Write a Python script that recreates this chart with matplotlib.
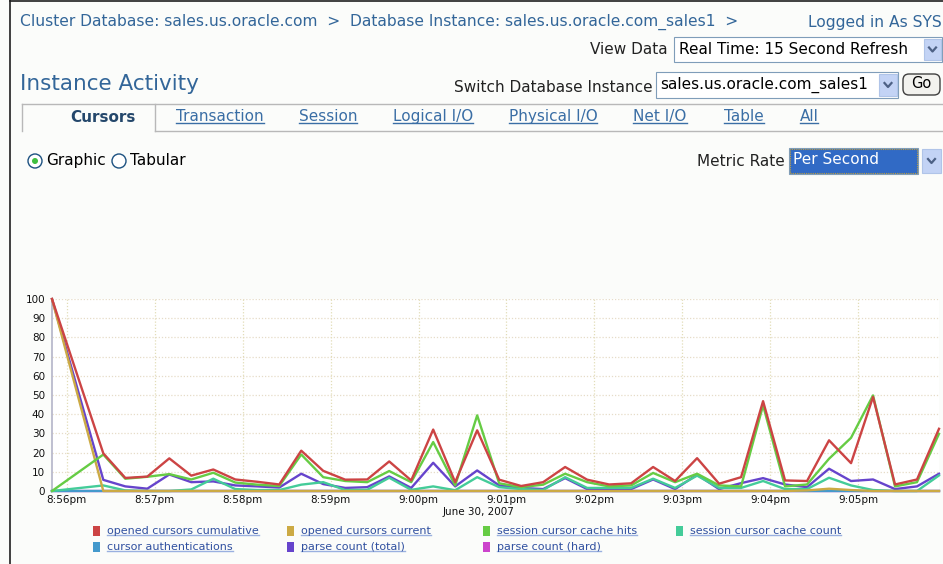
import numpy as np
import matplotlib
matplotlib.use('Agg')
import matplotlib.pyplot as plt
from matplotlib.lines import Line2D
from matplotlib.patches import Rectangle, Circle, FancyBboxPatch
from matplotlib.transforms import IdentityTransform

# Sample times in seconds after 8:56pm (first sample, then one every 15 s)
t_sec = [-10] + [25 + 15 * k for k in range(39)]

opened_cum = [100, 19.6, 6.8, 7.5, 17, 8, 11.2, 6, 4.8, 3.4, 21, 10.5, 5.9, 6, 15.4, 5.5,
              32, 4.6, 31.6, 5.9, 2.6, 4.6, 12.5, 5.9, 3.4, 4, 12.5, 5.2, 17.1, 3.8, 7.2,
              46.8, 5.5, 5.2, 26.4, 14.5, 49, 3.4, 6, 32.4]
opened_cur = [100, 0, 0, 0, 0, 0, 0, 0, 0, 0, 0, 0, 0, 0, 0, 0,
              0, 0, 0, 0, 0, 0, 0, 0, 0, 0, 0, 0, 0, 0, 0,
              0, 0, 0.3, 1.2, 0.5, 0, 0, 0, 0]
cache_hits = [0, 19, 6.4, 7.4, 8.8, 6, 9.5, 4.4, 3.3, 2.6, 19, 7.2, 5.2, 4.6, 10.4, 4.6,
              25.5, 2.9, 39.4, 4, 2, 3.3, 9, 4.6, 2.4, 2.9, 9.4, 4.6, 9, 2.9, 2.4,
              44.6, 2.4, 3.4, 16.8, 27.7, 49.8, 2.4, 4.6, 29.8]
cache_count = [0, 2.9, 0.3, 0, 0, 0.8, 6.4, 1, 0.5, 0.5, 3.3, 4.6, 0.5, 0.6, 6.9, 0.6,
               2.4, 0.4, 7.2, 2, 1, 0.5, 7.2, 1.6, 1.6, 1.6, 6.4, 1.6, 8, 1.6, 1.6,
               5.2, 1, 1, 6.9, 2.9, 0.5, 0, 0, 8.1]
cursor_auth = [0] * 40
parse_total = [100, 5.8, 2.4, 1.2, 8.6, 4.6, 5, 2.9, 2.4, 1.8, 9, 3.6, 1.6, 2, 7.6, 1.6,
               14.7, 2.4, 10.7, 2.9, 1.6, 1, 6.7, 1, 1, 1, 6, 1, 8.5, 1, 4.1,
               6.7, 3.4, 2, 11.6, 5.2, 6, 1, 2.4, 9]
parse_hard = [0] * 40

series_names = ['opened cursors cumulative', 'opened cursors current', 'session cursor cache hits',
                'session cursor cache count', 'cursor authentications', 'parse count (total)',
                'parse count (hard)']
series_colors = ['#cc4444', '#ccaa44', '#66cc44', '#44cc99', '#4499cc', '#6644cc', '#cc44cc']

tick_secs = [0, 60, 120, 180, 240, 300, 360, 420, 480, 540]
tick_labels = ['8:56pm', '8:57pm', '8:58pm', '8:59pm', '9:00pm', '9:01pm', '9:02pm',
               '9:03pm', '9:04pm', '9:05pm']
tab_names = ['Transaction', 'Session', 'Logical I/O', 'Physical I/O', 'Net I/O', 'Table', 'All']
tab_x = [220, 328, 433, 553, 660, 744, 809]

W, H = 943, 564
BLUE = '#336699'
LINK = '#3a6ea5'
FONT = 'DejaVu Sans'

fig = plt.figure(figsize=(W / 100, H / 100), dpi=100, facecolor='#fbfcfa')
ID = IdentityTransform()


def fp(x, y):
    return x / W, 1 - y / H


def txt(x, y, s, **kw):
    kw.setdefault('family', FONT)
    kw.setdefault('fontsize', 10.5)
    kw.setdefault('va', 'center')
    return fig.text(*fp(x, y), s, **kw)


def rect(x0, y0, x1, y1, **kw):
    r = Rectangle((x0, H - y1), x1 - x0, y1 - y0, transform=ID, **kw)
    fig.add_artist(r)
    return r


def hline(x0, x1, y, **kw):
    fig.add_artist(Line2D([x0, x1], [H - y, H - y], transform=ID, **kw))


def vline(x, y0, y1, **kw):
    fig.add_artist(Line2D([x, x], [H - y0, H - y1], transform=ID, **kw))


def arrow_btn(x0, y0, x1, y1):
    rect(x0, y0, x1, y1, facecolor='#c3d3f5', edgecolor='#b0c4e8', lw=0.8)
    cx, cy = (x0 + x1) / 2, (y0 + y1) / 2
    fig.add_artist(Line2D([cx - 3.5, cx, cx + 3.5], [H - cy + 2, H - cy - 2, H - cy + 2],
                          transform=ID, color='#4d6185', lw=1.6))


underlined = []

# page frame
vline(10, 0, H, color='#202020', lw=1.2)
hline(10, W, 1, color='#202020', lw=1.2)

# header
txt(20, 22, 'Cluster Database: sales.us.oracle.com  >  Database Instance: sales.us.oracle.com_sales1  >',
    color=BLUE, fontsize=11.2)
txt(942, 22, 'Logged in As SYS', color=BLUE, fontsize=11.2, ha='right')

txt(668, 50, 'View Data', color='#222222', fontsize=11, ha='right')
rect(674, 37, 942, 62, facecolor='white', edgecolor='#7f9db9', lw=0.8)
txt(679, 50, 'Real Time: 15 Second Refresh', color='black', fontsize=11)
arrow_btn(924, 39, 941, 60)

txt(20, 84, 'Instance Activity', color=BLUE, fontsize=15.5)
txt(653, 87, 'Switch Database Instance', color='#222222', fontsize=11, ha='right')
rect(656, 72, 898, 98, facecolor='white', edgecolor='#7f9db9', lw=0.8)
txt(660, 85, 'sales.us.oracle.com_sales1', color='black', fontsize=11)
arrow_btn(879, 74, 897, 96)
go = FancyBboxPatch((903, H - 95), 37, 21, boxstyle='round,pad=0,rounding_size=6',
                    transform=ID, facecolor='#f2f2ee', edgecolor='#404040', lw=1)
fig.add_artist(go)
txt(921, 84, 'Go', color='black', fontsize=10.5, ha='center')

# tab strip
hline(22, W, 104, color='#b8b8b8', lw=1)
vline(22, 104, 131, color='#b8b8b8', lw=1)
vline(155, 104, 131, color='#b8b8b8', lw=1)
hline(155, W, 131, color='#b8b8b8', lw=1)
txt(103, 118, 'Cursors', color='#24476b', fontsize=11, weight='bold', ha='center')
for name, x in zip(tab_names, tab_x):
    underlined.append((txt(x, 117, name, color=LINK, fontsize=11, ha='center'), LINK))

# radio buttons
for cx in (35, 119):
    fig.add_artist(Circle((cx, H - 161), 7, transform=ID, facecolor='white',
                          edgecolor='#1c5180', lw=1))
fig.add_artist(Circle((35, H - 161), 3, transform=ID, facecolor='#3fbf3f', edgecolor='none'))
txt(46, 161, 'Graphic', color='black', fontsize=11)
txt(130, 161, 'Tabular', color='black', fontsize=11)

txt(785, 162, 'Metric Rate', color='#222222', fontsize=11, ha='right')
rect(789, 148, 918, 174, facecolor='#316ac5', edgecolor='#7f9db9', lw=0.8)
rect(790, 149, 917, 173, facecolor='none', edgecolor='#c0a040', lw=0.8, linestyle=(0, (1, 1)))
txt(793, 160, 'Per Second', color='white', fontsize=11)
arrow_btn(922, 149, 941, 173)

# chart
ax = fig.add_axes([52 / W, 73 / H, 887 / W, 192 / H])
ax.set_facecolor('white')
ax.set_xlim(-10, 595)
ax.set_ylim(0, 100)
for yv in range(10, 101, 10):
    ax.axhline(yv, color='#e6dcc8', lw=0.9, linestyle=(0, (1, 1.5)), zorder=0)
for xv in tick_secs:
    ax.axvline(xv, color='#e2ddb8', lw=0.9, linestyle=(0, (1, 1.5)), zorder=0)

all_series = [opened_cum, opened_cur, cache_hits, cache_count, cursor_auth, parse_total, parse_hard]
draw_order = [6, 4, 5, 3, 1, 2, 0]
for i in draw_order:
    ax.plot(t_sec, all_series[i], color=series_colors[i], lw=1.7, clip_on=False, zorder=3)

ax.set_xticks(tick_secs)
ax.set_xticklabels(tick_labels)
ax.set_yticks(range(0, 101, 10))
ax.tick_params(length=0, labelsize=7.5, colors='#111111', pad=3)
ax.tick_params(axis='y', pad=5)
for s in ('top', 'right'):
    ax.spines[s].set_visible(False)
ax.spines['left'].set_color('#b4b4c8')
ax.spines['bottom'].set_color('#9090a0')
ax.spines['left'].set_linewidth(1.2)
ax.spines['bottom'].set_linewidth(1.2)

txt(479, 512, 'June 30, 2007', color='#111111', fontsize=7.5, ha='center')

# legend
leg_x = [93, 287, 483, 676]
for i, name in enumerate(series_names):
    row, col = divmod(i, 4)
    x = leg_x[col]
    y = 531 + 16 * row
    rect(x, y - 5, x + 7, y + 5, facecolor=series_colors[i], edgecolor='none')
    t = txt(x + 14, y, name, color='#3050a0', fontsize=8.0)
    underlined.append((t, '#9ab0e0'))

fig.canvas.draw()
rend = fig.canvas.get_renderer()
for t, c in underlined:
    bb = t.get_window_extent(rend)
    fig.add_artist(Line2D([bb.x0, bb.x1], [bb.y0 + 1, bb.y0 + 1], transform=ID, color=c, lw=1))

fig.savefig('out.png', dpi=100, facecolor=fig.get_facecolor())
